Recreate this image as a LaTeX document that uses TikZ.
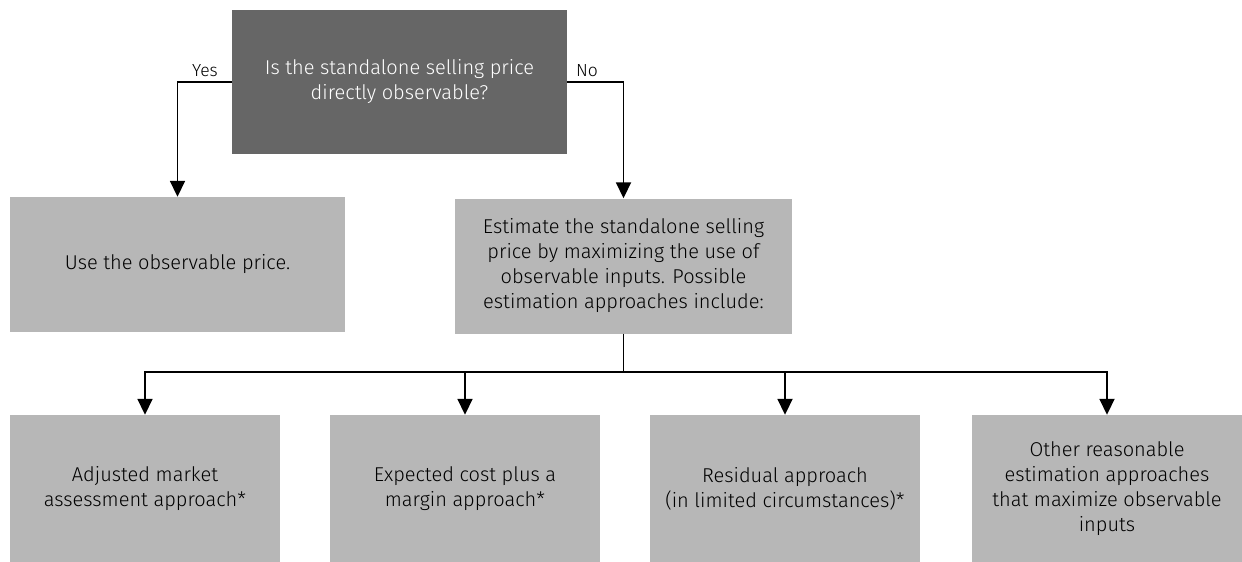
\documentclass[tikz,border=0pt]{standalone}
\usepackage{fontspec}
\setmainfont{Fira Sans}[UprightFont=* Light]
\usetikzlibrary{arrows.meta}
\definecolor{boxgray}{RGB}{183,183,183}
\definecolor{darkbox}{RGB}{102,102,102}
\tikzset{
  box/.style={rectangle, fill=boxgray, draw=none, align=center, inner sep=0pt,
    font=\fontsize{20}{25}\selectfont, text=black},
  qbox/.style={box, fill=darkbox, text=white},
  conn/.style={line width=1.8pt, -{Triangle[width=15pt,length=16pt]}},
  lbl/.style={font=\fontsize{17.5}{20}\selectfont, anchor=base}
}
\begin{document}
\begin{tikzpicture}[x=1pt,y=-1pt]
\useasboundingbox (0,0) rectangle (1242,562);
\node[qbox, minimum width=335pt, minimum height=144pt] (q) at (399.5,82) {Is the standalone selling price\\directly observable?};
\node[box, minimum width=335pt, minimum height=135pt] (use) at (177.5,264.5) {Use the observable price.};
\node[box, minimum width=337pt, minimum height=135pt] (est) at (623.5,266) {Estimate the standalone selling\\price by maximizing the use of\\observable inputs. Possible\\estimation approaches include:};
\node[box, minimum width=270pt, minimum height=147pt] (b1) at (145,488.5) {Adjusted market\\assessment approach*};
\node[box, minimum width=270pt, minimum height=147pt] (b2) at (465,488.5) {Expected cost plus a\\margin approach*};
\node[box, minimum width=270pt, minimum height=147pt] (b3) at (785,488.5) {Residual approach\\(in limited circumstances)*};
\node[box, minimum width=270pt, minimum height=147pt] (b4) at (1107,488.5) {Other reasonable\\estimation approaches\\that maximize observable\\inputs};
\draw[conn] (q.west) -| (use.north);
\draw[conn] (q.east) -| (est.north);
\node[lbl] (yes) at (205,76) {Yes};
\node[lbl] (no) at (587,76) {No};
\draw[line width=1.8pt] (est.south) -- (623.5,372) coordinate (j);
\draw[conn] (j) -| (b1.north);
\draw[conn] (j) -| (b2.north);
\draw[conn] (j) -| (b3.north);
\draw[conn] (j) -| (b4.north);
\end{tikzpicture}
\end{document}
